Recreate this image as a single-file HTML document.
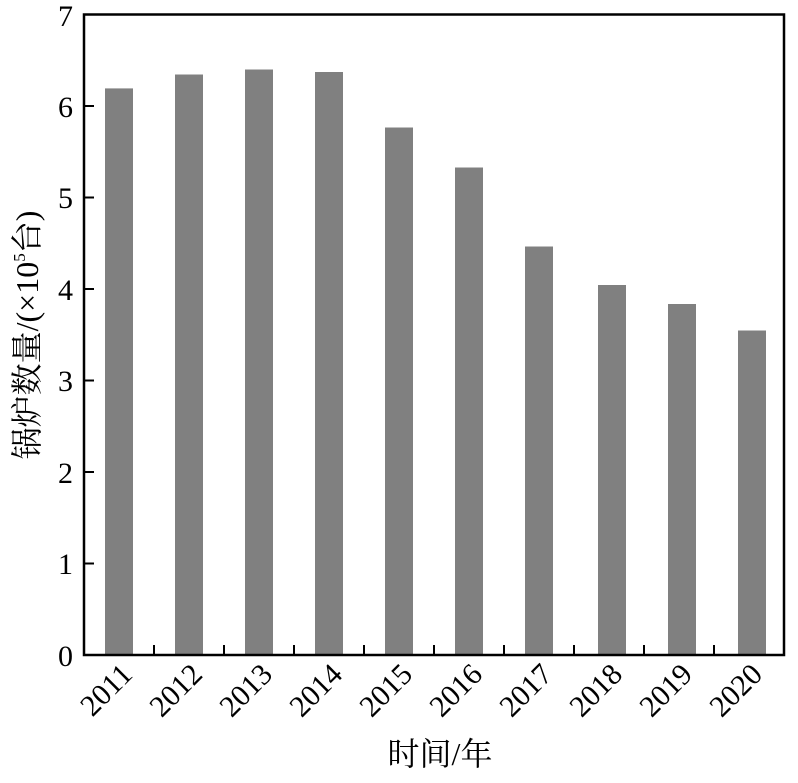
<!DOCTYPE html>
<html><head><meta charset="utf-8"><style>
body{margin:0;background:#fff}
</style></head><body>
<svg width="798" height="778" xmlns="http://www.w3.org/2000/svg" style="font-family:'Liberation Serif','Times New Roman',serif" font-family="Liberation Serif, Times New Roman, serif">
<g fill="#808080">
<rect x="105" y="88.4" width="28" height="566.6"/>
<rect x="175" y="74.5" width="28" height="580.5"/>
<rect x="245" y="69.5" width="28" height="585.5"/>
<rect x="315" y="72" width="28" height="583"/>
<rect x="385" y="127.5" width="28" height="527.5"/>
<rect x="455" y="167.5" width="28" height="487.5"/>
<rect x="525" y="246.5" width="28" height="408.5"/>
<rect x="598" y="285" width="28" height="370"/>
<rect x="668" y="304" width="28" height="351"/>
<rect x="738" y="330.5" width="28" height="324.5"/>
</g>
<rect x="84" y="14.5" width="700" height="640.5" fill="none" stroke="#000" stroke-width="2.5"/>
<g stroke="#000" stroke-width="2">
<line x1="84" y1="106" x2="94" y2="106"/><line x1="84" y1="197.5" x2="94" y2="197.5"/>
<line x1="84" y1="289" x2="94" y2="289"/><line x1="84" y1="380.5" x2="94" y2="380.5"/>
<line x1="84" y1="472" x2="94" y2="472"/><line x1="84" y1="563.5" x2="94" y2="563.5"/>
<line x1="154" y1="655" x2="154" y2="645"/><line x1="224" y1="655" x2="224" y2="645"/>
<line x1="294" y1="655" x2="294" y2="645"/><line x1="364" y1="655" x2="364" y2="645"/>
<line x1="434" y1="655" x2="434" y2="645"/><line x1="504" y1="655" x2="504" y2="645"/>
<line x1="574" y1="655" x2="574" y2="645"/><line x1="644" y1="655" x2="644" y2="645"/>
<line x1="714" y1="655" x2="714" y2="645"/>
</g>
<g font-size="30" text-anchor="end">
<text x="73" y="26">7</text><text x="73" y="117">6</text><text x="73" y="208">5</text>
<text x="73" y="300">4</text><text x="73" y="391">3</text><text x="73" y="483">2</text>
<text x="73" y="574">1</text><text x="73" y="666">0</text>
</g>
<g font-size="30" text-anchor="end">
<text transform="translate(134,676) rotate(-45)">2011</text>
<text transform="translate(204,676) rotate(-45)">2012</text>
<text transform="translate(274,676) rotate(-45)">2013</text>
<text transform="translate(344,676) rotate(-45)">2014</text>
<text transform="translate(414,676) rotate(-45)">2015</text>
<text transform="translate(484,676) rotate(-45)">2016</text>
<text transform="translate(554,676) rotate(-45)">2017</text>
<text transform="translate(624,676) rotate(-45)">2018</text>
<text transform="translate(694,676) rotate(-45)">2019</text>
<text transform="translate(764,676) rotate(-45)">2020</text>
</g>
<text x="440" y="765" font-size="32" text-anchor="middle" font-family="Liberation Serif, Noto Serif CJK SC, serif">时间/年</text>
<text transform="translate(38,335) rotate(-90)" font-size="32" text-anchor="middle" font-family="Liberation Serif, Noto Serif CJK SC, serif">锅炉数量/(×10<tspan font-size="17" dy="-13">5</tspan><tspan dy="13">台)</tspan></text>
</svg>
</body></html>
